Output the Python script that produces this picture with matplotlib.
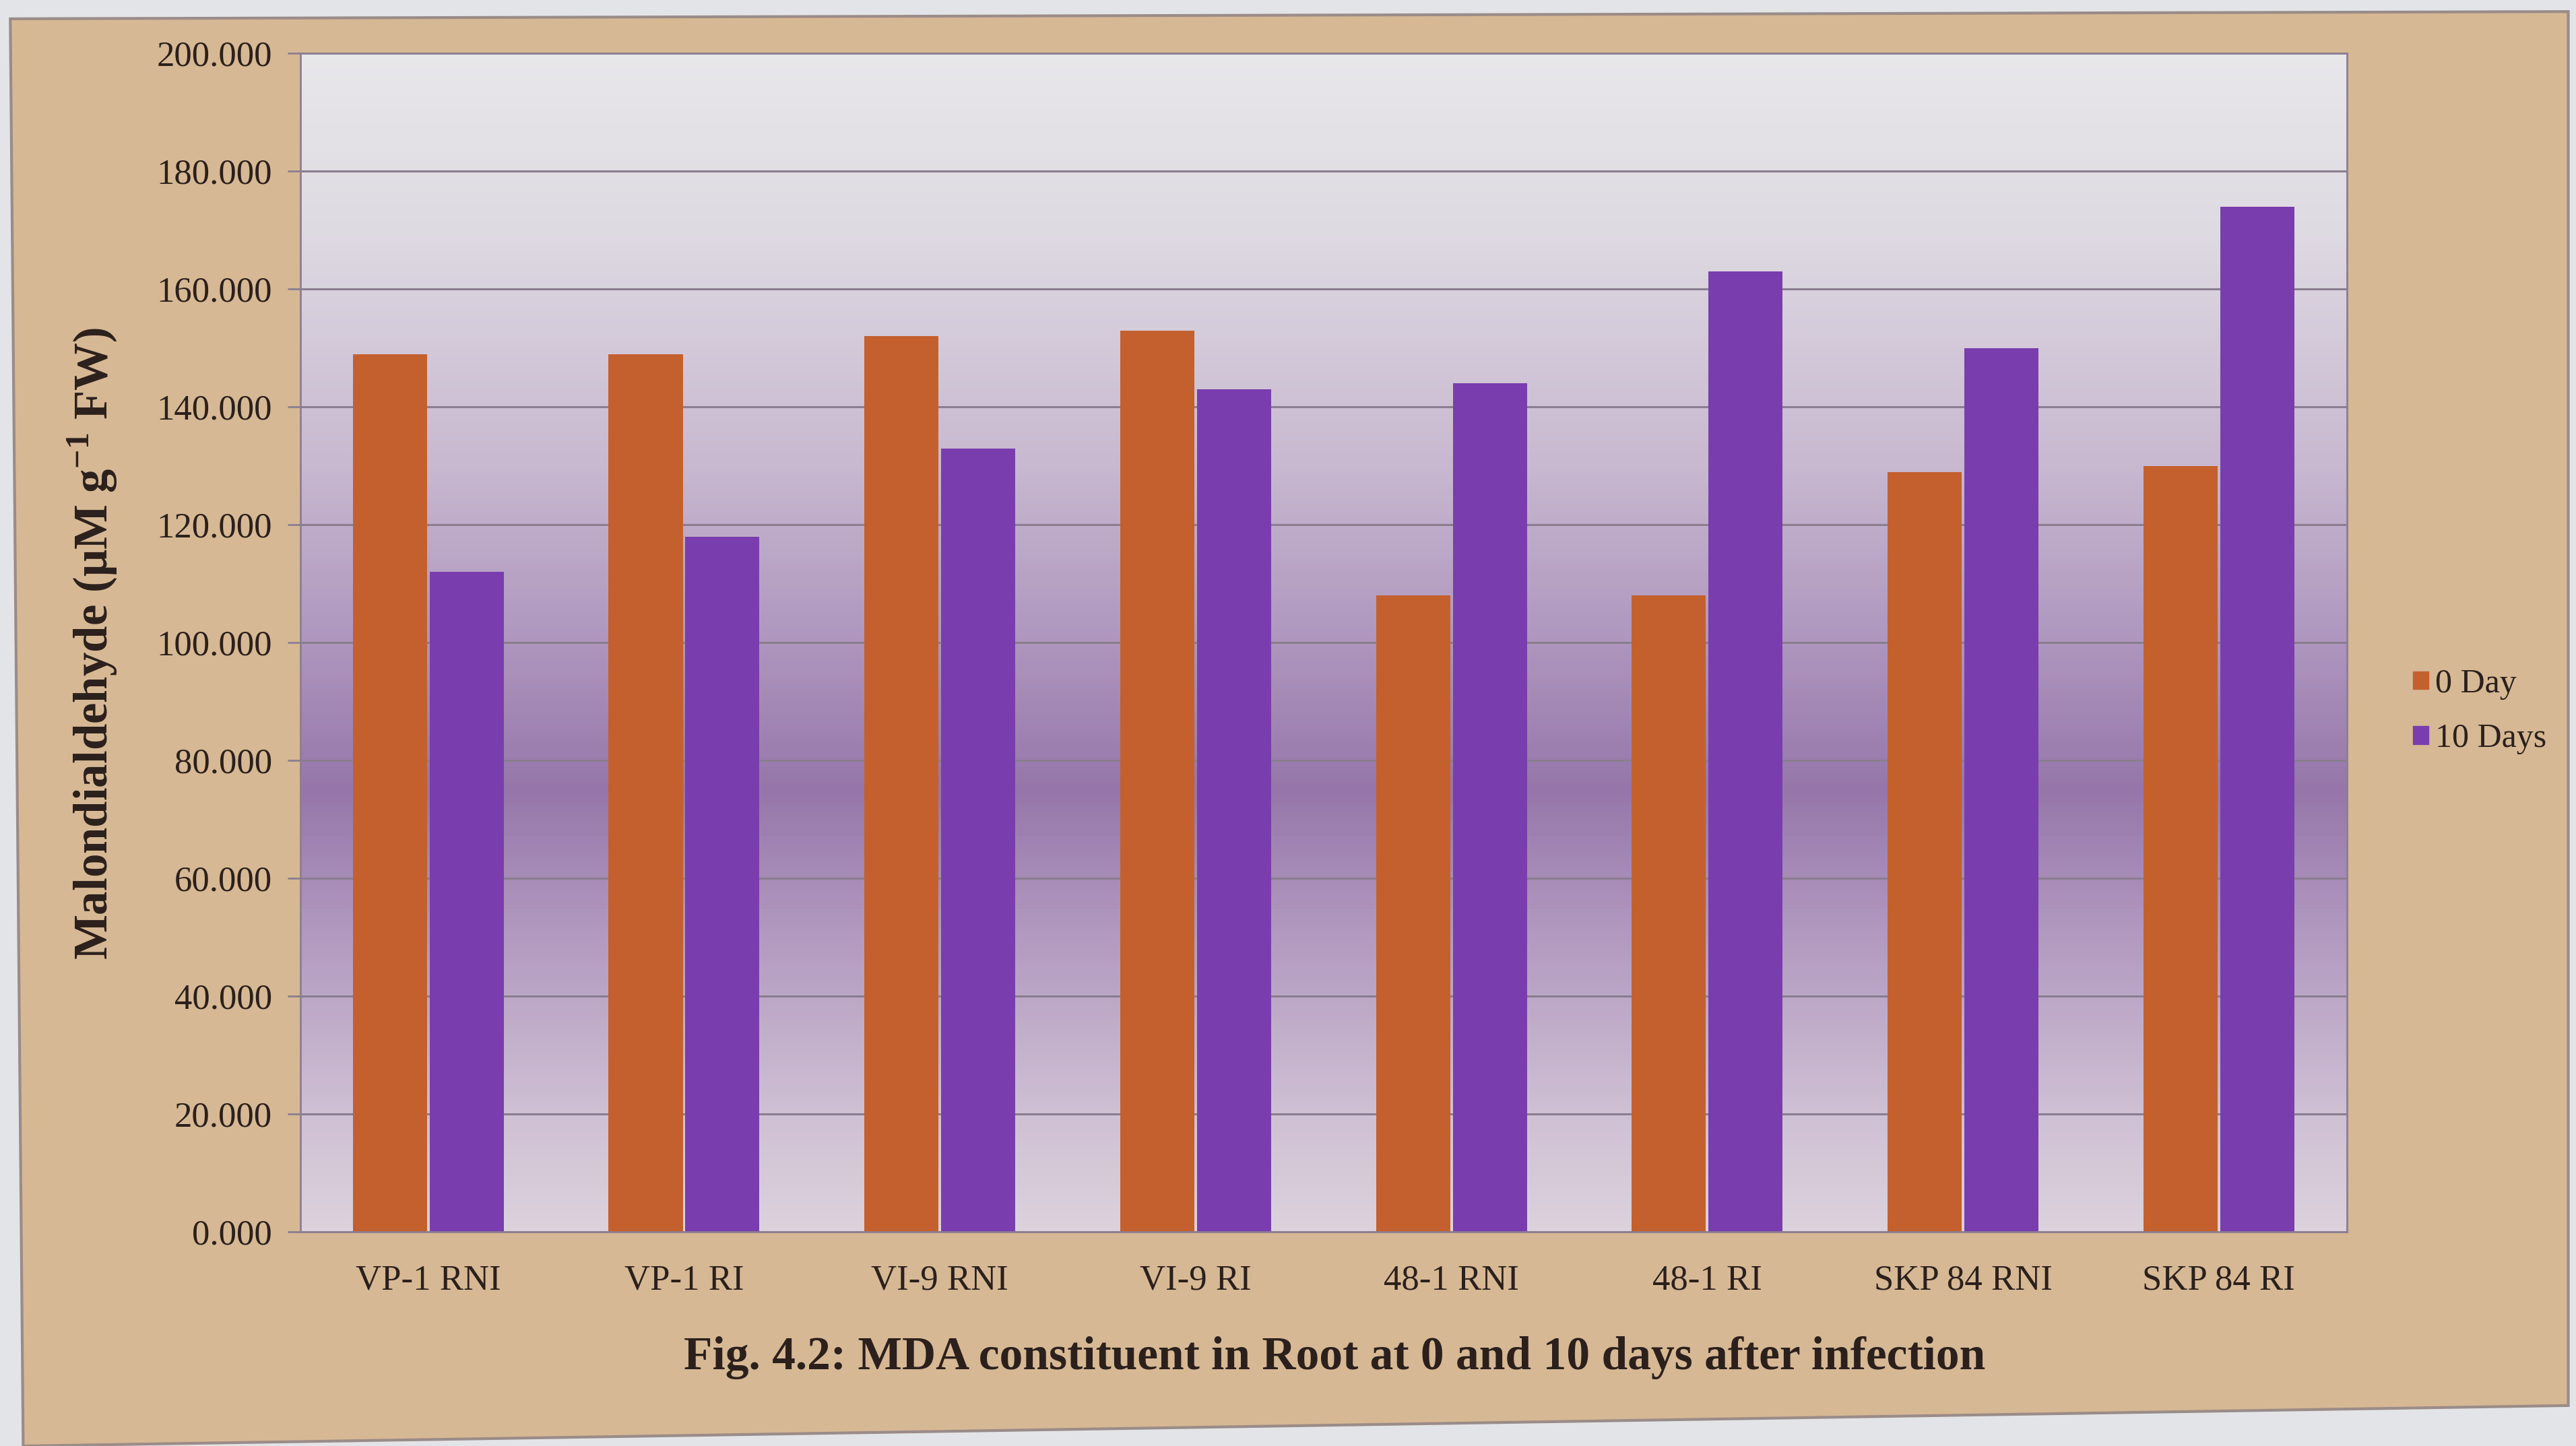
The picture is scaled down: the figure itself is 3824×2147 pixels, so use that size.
import numpy as np
import matplotlib.pyplot as plt
from matplotlib.colors import LinearSegmentedColormap
from matplotlib.patches import Polygon, Patch

plt.rcParams['font.family'] = ['Liberation Serif', 'DejaVu Serif']
plt.rcParams['mathtext.fontset'] = 'custom'
plt.rcParams['mathtext.rm'] = 'Liberation Serif'
plt.rcParams['mathtext.bf'] = 'Liberation Serif:bold'

# MDA content (uM g-1 FW) per genotype/treatment
categories = ['VP-1 RNI', 'VP-1 RI', 'VI-9 RNI', 'VI-9 RI',
              '48-1 RNI', '48-1 RI', 'SKP 84 RNI', 'SKP 84 RI']
day0 = [149, 149, 152, 153, 108, 108, 129, 130]
day10 = [112, 118, 133, 143, 144, 163, 150, 174]
series_names = ['0 Day', '10 Days']
yticks = np.arange(0, 201, 20)

orange = '#C4602E'
purple = '#7A3DAE'
text_col = '#2B201C'
grid_col = '#8A7E90'

fig = plt.figure(figsize=(38.24, 21.47), dpi=100)
fig.patch.set_facecolor('#E3E4E8')

# parchment panel behind the chart
panel = Polygon([(0.004, 0.987), (0.997, 0.992), (0.997, 0.028), (0.009, 0.0)],
                closed=True, transform=fig.transFigure, facecolor='#D6B894',
                edgecolor='#9A8C88', linewidth=3, zorder=-5)
fig.patches.append(panel)

ax = fig.add_axes([0.1166, 0.148, 0.7944, 0.815])
ax.set_zorder(2)

# purple shaded plot background
stops = [(0.0, '#DCD2DC'), (0.1, '#CFC0D4'), (0.25, '#B29AC0'), (0.375, '#9676AA'),
         (0.5, '#AE96BE'), (0.65, '#C8B8D0'), (0.85, '#DEDAE2'), (1.0, '#E8E7EA')]
cmap = LinearSegmentedColormap.from_list('bg', stops)
grad = np.linspace(0, 1, 256).reshape(-1, 1)
ax.imshow(grad, extent=(-0.5, 7.5, 0, 200), origin='lower', aspect='auto',
          cmap=cmap, zorder=0)

x = np.arange(len(categories))
w = 0.29
ax.bar(x - 0.15, day0, width=w, color=orange, zorder=2)
ax.bar(x + 0.15, day10, width=w, color=purple, zorder=2)

ax.set_xlim(-0.5, 7.5)
ax.set_ylim(0, 200)
ax.set_axisbelow(True)
ax.yaxis.grid(True, color=grid_col, linewidth=2.2)
ax.set_yticks(yticks)
ax.set_yticklabels([f'{v:.3f}' for v in yticks])
ax.set_xticks(x)
ax.set_xticklabels(categories)
ax.tick_params(axis='y', length=14, width=2, color=grid_col, pad=16,
               labelsize=38, labelcolor=text_col)
ax.tick_params(axis='x', length=0, pad=35, labelsize=38, labelcolor=text_col)
for s in ax.spines.values():
    s.set_color(grid_col)
    s.set_linewidth(2)

fig.text(0.036, 0.555, r'Malondialdehyde (μM g$^{\mathbf{-1}}$ FW)', rotation=90,
         ha='center', va='center', fontsize=51, fontweight='bold', color=text_col)

fig.text(0.518, 0.061, 'Fig. 4.2: MDA constituent in Root at 0 and 10 days after infection',
         ha='center', va='center', fontsize=50, fontweight='bold', color=text_col)

handles = [Patch(color=orange), Patch(color=purple)]
fig.legend(handles, series_names, loc='center left', bbox_to_anchor=(0.925, 0.508),
           frameon=False, fontsize=36, handlelength=0.45, handleheight=0.45,
           handletextpad=0.2, labelspacing=0.7, labelcolor=text_col)

fig.savefig('out.png', dpi=100, facecolor=fig.get_facecolor())
